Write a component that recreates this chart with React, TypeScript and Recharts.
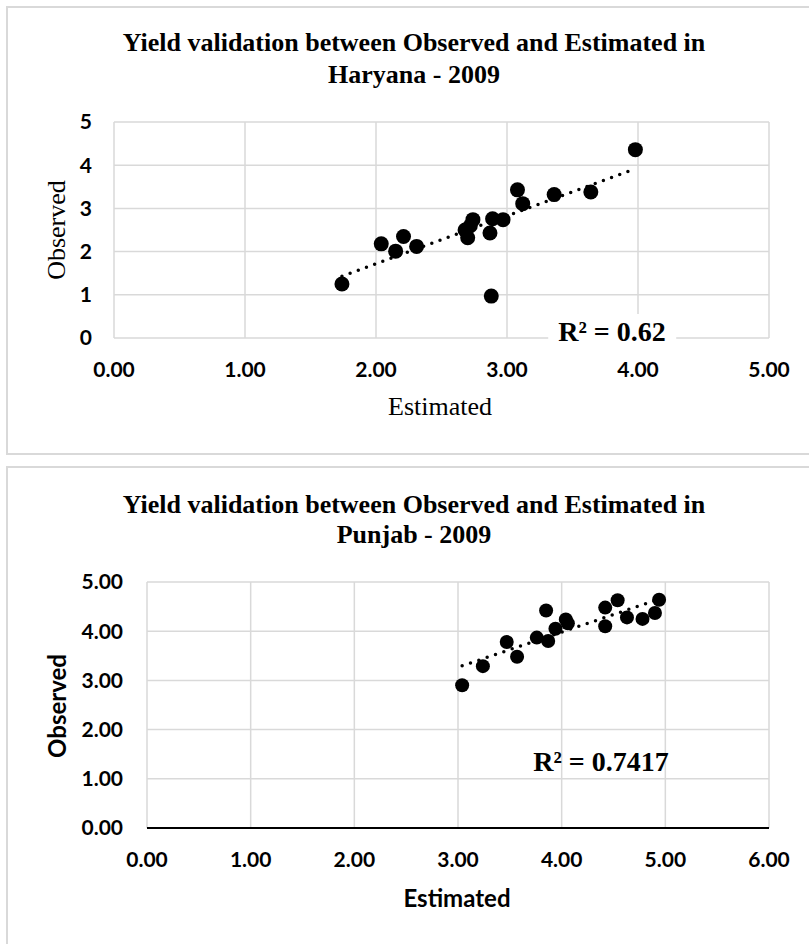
import { ScatterChart, Scatter, XAxis, YAxis, CartesianGrid, ReferenceLine } from 'recharts';

// Haryana 2009 - estimated vs observed yield
const haryanaEstimated = [1.74, 2.04, 2.15, 2.21, 2.31, 2.68, 2.70, 2.72, 2.74, 2.87, 2.89, 2.97, 2.88, 3.08, 3.12, 3.36, 3.64, 3.98];
const haryanaObserved = [1.25, 2.18, 2.01, 2.35, 2.12, 2.50, 2.32, 2.60, 2.74, 2.43, 2.76, 2.74, 0.97, 3.43, 3.11, 3.32, 3.38, 4.36];
const haryanaXTicks = [0, 1, 2, 3, 4, 5];
const haryanaYTicks = [0, 1, 2, 3, 4, 5];

// Punjab 2009
const punjabEstimated = [3.04, 3.24, 3.47, 3.57, 3.76, 3.85, 3.87, 3.94, 4.04, 4.06, 4.42, 4.42, 4.54, 4.63, 4.78, 4.90, 4.94];
const punjabObserved = [2.90, 3.29, 3.78, 3.48, 3.87, 4.42, 3.80, 4.05, 4.24, 4.16, 4.48, 4.10, 4.63, 4.28, 4.25, 4.37, 4.64];
const punjabXTicks = [0, 1, 2, 3, 4, 5, 6];
const punjabYTicks = [0, 1, 2, 3, 4, 5];

const GRID = '#d9d9d9';
const SERIF = '"Liberation Serif", "Times New Roman", serif';
const SANS = 'Lato, "Open Sans", sans-serif';

// least squares trendline, drawn between min and max x like Excel does
function trendSegment(xs: number[], ys: number[]) {
  const n = xs.length;
  const mx = xs.reduce((a, b) => a + b, 0) / n;
  const my = ys.reduce((a, b) => a + b, 0) / n;
  let sxy = 0;
  let sxx = 0;
  for (let i = 0; i < n; i++) {
    sxy += (xs[i] - mx) * (ys[i] - my);
    sxx += (xs[i] - mx) * (xs[i] - mx);
  }
  const slope = sxy / sxx;
  const icpt = my - slope * mx;
  const x0 = Math.min(...xs);
  const x1 = Math.max(...xs);
  return [
    { x: x0, y: icpt + slope * x0 },
    { x: x1, y: icpt + slope * x1 },
  ];
}

const dot = (r: number) => (props: any) => <circle cx={props.cx} cy={props.cy} r={r} fill="#000" />;

export default function App() {
  const haryana = haryanaEstimated.map((x, i) => ({ x, y: haryanaObserved[i] }));
  const punjab = punjabEstimated.map((x, i) => ({ x, y: punjabObserved[i] }));
  const tickStyle = { fill: '#000', fontSize: 21, fontFamily: SANS, fontWeight: 700 };

  return (
    <div style={{ position: 'absolute', left: 0, top: 0, width: 809, height: 944, overflow: 'hidden', background: '#fff' }}>
      {/* chart boxes */}
      <div style={{ position: 'absolute', left: 6, top: 6, width: 830, height: 449, border: `2px solid ${GRID}`, boxSizing: 'border-box' }} />
      <div style={{ position: 'absolute', left: 6, top: 466, width: 830, height: 500, border: `2px solid ${GRID}`, boxSizing: 'border-box' }} />

      {/* Haryana */}
      <div style={{ position: 'absolute', left: 0, top: 0 }}>
        <ScatterChart width={809} height={454} margin={{ top: 122, right: 40, bottom: 76, left: 54 }}>
          <CartesianGrid stroke={GRID} strokeWidth={1.5} />
          <XAxis type="number" dataKey="x" domain={[0, 5]} ticks={haryanaXTicks} tickFormatter={(v: number) => v.toFixed(2)}
            axisLine={false} tickLine={false} tickSize={0} tickMargin={24} height={40} tick={tickStyle} />
          <YAxis type="number" dataKey="y" domain={[0, 5]} ticks={haryanaYTicks}
            axisLine={false} tickLine={false} tickSize={0} tickMargin={22} width={60} tick={tickStyle} />
          <Scatter data={haryana} shape={dot(7.5)} isAnimationActive={false} />
          <ReferenceLine segment={trendSegment(haryanaEstimated, haryanaObserved)} stroke="#000" strokeWidth={3.5}
            strokeDasharray="0 8.7" strokeLinecap="round" />
        </ScatterChart>
      </div>
      <div style={{ position: 'absolute', left: 114, top: 27, width: 600, textAlign: 'center', fontFamily: SERIF, fontWeight: 700, fontSize: 26, lineHeight: '32px' }}>
        Yield validation between Observed and Estimated in<br />Haryana - 2009
      </div>
      <div style={{ position: 'absolute', left: 440, top: 407, transform: 'translate(-50%, -50%)', fontFamily: SERIF, fontSize: 26, lineHeight: 1, whiteSpace: 'nowrap' }}>
        Estimated
      </div>
      <div style={{ position: 'absolute', left: 57, top: 230, transform: 'translate(-50%, -50%) rotate(-90deg)', fontFamily: SERIF, fontSize: 26, lineHeight: 1, whiteSpace: 'nowrap' }}>
        Observed
      </div>
      <div style={{ position: 'absolute', left: 612, top: 332, transform: 'translate(-50%, -50%)', fontFamily: SERIF, fontWeight: 700, fontSize: 28, lineHeight: '36px', padding: '0 10px', background: '#fff', whiteSpace: 'nowrap' }}>
        R² = 0.62
      </div>

      {/* Punjab */}
      <div style={{ position: 'absolute', left: 0, top: 467 }}>
        <ScatterChart width={809} height={477} margin={{ top: 115, right: 40, bottom: 76, left: 77 }}>
          <CartesianGrid stroke={GRID} strokeWidth={1.5} />
          <XAxis type="number" dataKey="x" domain={[0, 6]} ticks={punjabXTicks} tickFormatter={(v: number) => v.toFixed(2)}
            axisLine={{ stroke: '#000', strokeWidth: 2 }} tickLine={false} tickSize={0} tickMargin={24.5} height={40} tick={tickStyle} />
          <YAxis type="number" dataKey="y" domain={[0, 5]} ticks={punjabYTicks} tickFormatter={(v: number) => v.toFixed(2)}
            axisLine={false} tickLine={false} tickSize={0} tickMargin={24} width={70} tick={tickStyle} />
          <Scatter data={punjab} shape={dot(7)} isAnimationActive={false} />
          <ReferenceLine segment={trendSegment(punjabEstimated, punjabObserved)} stroke="#000" strokeWidth={3.5}
            strokeDasharray="0 8.8" strokeLinecap="round" />
        </ScatterChart>
      </div>
      <div style={{ position: 'absolute', left: 114, top: 490, width: 600, textAlign: 'center', fontFamily: SERIF, fontWeight: 700, fontSize: 26, lineHeight: '30px' }}>
        Yield validation between Observed and Estimated in<br />Punjab - 2009
      </div>
      <div style={{ position: 'absolute', left: 457, top: 898, transform: 'translate(-50%, -50%)', fontFamily: SANS, fontWeight: 700, fontSize: 24, lineHeight: 1, whiteSpace: 'nowrap' }}>
        Estimated
      </div>
      <div style={{ position: 'absolute', left: 57, top: 706, transform: 'translate(-50%, -50%) rotate(-90deg)', fontFamily: SANS, fontWeight: 700, fontSize: 24, lineHeight: 1, whiteSpace: 'nowrap' }}>
        Observed
      </div>
      <div style={{ position: 'absolute', left: 601, top: 762, transform: 'translate(-50%, -50%)', fontFamily: SERIF, fontWeight: 700, fontSize: 28, lineHeight: 1, whiteSpace: 'nowrap' }}>
        R² = 0.7417
      </div>
    </div>
  );
}
